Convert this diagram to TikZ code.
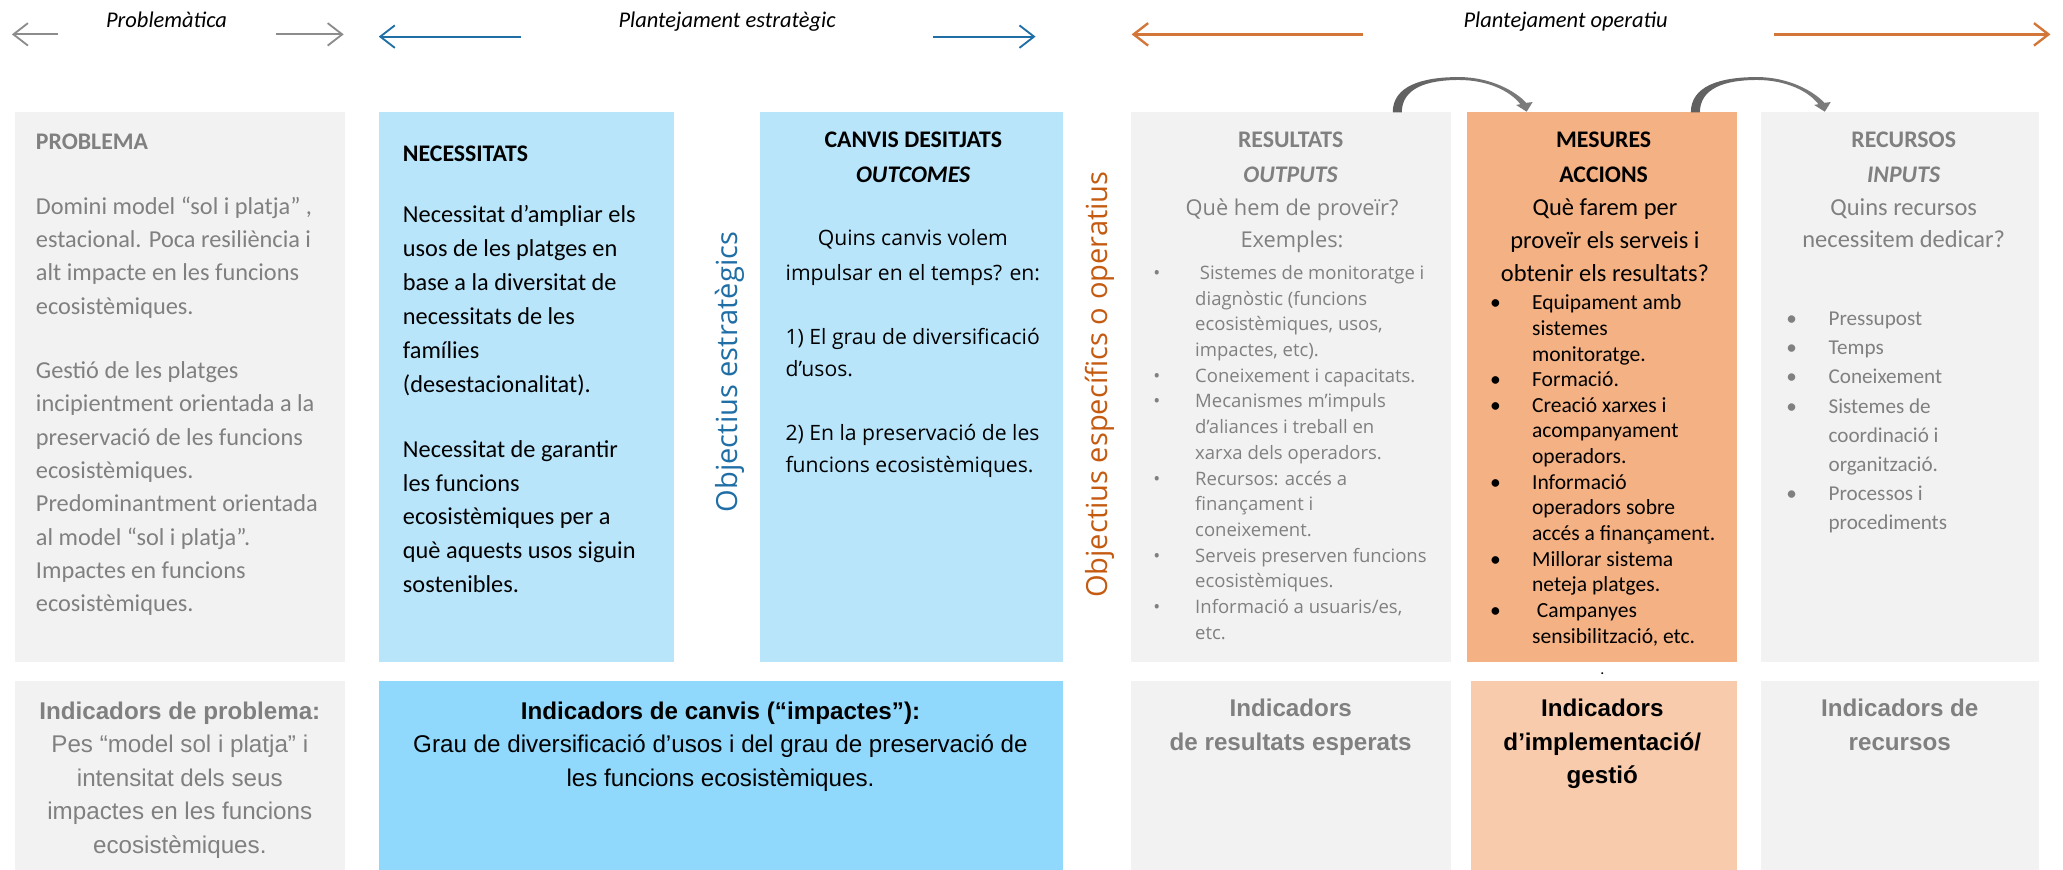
\documentclass[tikz,border=0pt]{standalone}
\usepackage{fontspec}
\setmainfont{Carlito}
\newfontfamily\osfont{Open Sans}
\newfontfamily\arialfont{Liberation Sans}
\usetikzlibrary{arrows.meta}
\definecolor{boxgray}{RGB}{242,242,242}
\definecolor{boxblue}{RGB}{185,229,251}
\definecolor{boxbluedark}{RGB}{145,217,252}
\definecolor{boxorange}{RGB}{244,177,131}
\definecolor{boxorangelight}{RGB}{248,203,173}
\definecolor{txtgray}{RGB}{128,128,128}
\definecolor{arrgray}{RGB}{140,140,140}
\definecolor{arrblue}{RGB}{31,110,165}
\definecolor{arrorange}{RGB}{211,118,58}
\definecolor{txtorange}{RGB}{197,90,17}
\definecolor{curvedark}{RGB}{95,95,95}
\definecolor{curvemid}{RGB}{165,165,165}
\definecolor{curveright}{RGB}{125,125,125}
\newcommand\rbul{\makebox[31.6pt][l]{•}}
\newcommand\rind{\makebox[31.6pt]{}}
\newcommand\mbul{\makebox[31.7pt][l]{•}}
\newcommand\mind{\makebox[31.7pt]{}}
\newcommand\cbul{\makebox[32pt][l]{•}}
\newcommand\cind{\makebox[32pt]{}}
\newcommand\curvedarrowshape{%
  (0,0) .. controls (0,-20) and (22,-26.7) .. (50,-26.7)
  .. controls (74,-26.7) and (93,-16) .. (101,-7.2)
  -- (105.8,-7.8) -- (101.3,-0.5) -- (93.3,-5.6) -- (96.5,-6.2)
  .. controls (89,-16) and (72,-24.5) .. (50,-24.5)
  .. controls (25,-24.5) and (7,-18) .. (6.8,0) -- cycle}
\begin{document}
\begin{tikzpicture}[x=1pt,y=-1pt,
  panel/.style={draw=none, inner sep=0pt, outer sep=0pt, anchor=north west},
  ttl/.style={font=\fontsize{18}{26.4}\selectfont\bfseries, align=center, anchor=base, inner sep=0pt},
  hdr/.style={font=\fontsize{17}{20}\selectfont\itshape, anchor=base, inner sep=0pt},
  bodytxt/.style={font=\fontsize{18.4}{25.2}\selectfont, align=left, anchor=base west, inner sep=0pt},
  indtxt/.style={font=\arialfont\fontsize{18.3}{25.4}\selectfont, align=center, anchor=base, inner sep=0pt},
  vert/.style={rotate=90, font=\osfont\fontsize{22}{26}\selectfont, inner sep=0pt},
  toparrow/.style={line width=1.4pt, -{Straight Barb[length=11pt,width=17pt]}},
  curveshade/.style={left color=curvedark, middle color=curvemid, right color=curveright}
]
\useasboundingbox (0,0) rectangle (1560.5,658);

% ---- panels, top row
\node[panel, fill=boxgray, minimum width=250pt, minimum height=416pt] (prob) at (11,85) {};
\node[panel, fill=boxblue, minimum width=223pt, minimum height=416pt] (nec) at (287,85) {};
\node[panel, fill=boxblue, minimum width=229pt, minimum height=416pt] (canv) at (575,85) {};
\node[panel, fill=boxgray, minimum width=242.4pt, minimum height=416pt] (res) at (855.3,85) {};
\node[panel, fill=boxorange, minimum width=204pt, minimum height=416pt] (mes) at (1110,85) {};
\node[panel, fill=boxgray, minimum width=210pt, minimum height=416pt] (rec) at (1332,85) {};
% ---- panels, bottom row
\node[panel, fill=boxgray, minimum width=250pt, minimum height=143pt] (iprob) at (11,515) {};
\node[panel, fill=boxbluedark, minimum width=517pt, minimum height=143pt] (icanv) at (287,515) {};
\node[panel, fill=boxgray, minimum width=242.4pt, minimum height=143pt] (ires) at (855.3,515) {};
\node[panel, fill=boxorangelight, minimum width=201.4pt, minimum height=143pt] (imes) at (1112.6,515) {};
\node[panel, fill=boxgray, minimum width=210pt, minimum height=143pt] (irec) at (1332,515) {};

% ---- top headers and arrows
\node[hdr] (hprob) at (126,20.7) {Problemàtica};
\node[hdr] (hest) at (550,20.7) {Plantejament estratègic};
\node[hdr] (hop) at (1184.3,20.7) {Plantejament operatiu};
\coordinate (g1a) at (44,26);   \coordinate (g1b) at (9,26);
\coordinate (g2a) at (208.5,26); \coordinate (g2b) at (260,26);
\coordinate (b1a) at (394,27.7); \coordinate (b1b) at (286.5,27.7);
\coordinate (b2a) at (705.8,27.7); \coordinate (b2b) at (783.3,27.7);
\coordinate (o1a) at (1031,26); \coordinate (o1b) at (856,26);
\coordinate (o2a) at (1342,26); \coordinate (o2b) at (1551,26);
\draw[toparrow, arrgray] (g1a) -- (g1b);
\draw[toparrow, arrgray] (g2a) -- (g2b);
\draw[toparrow, arrblue] (b1a) -- (b1b);
\draw[toparrow, arrblue] (b2a) -- (b2b);
\draw[toparrow, arrorange, line width=1.8pt] (o1a) -- (o1b);
\draw[toparrow, arrorange, line width=1.8pt] (o2a) -- (o2b);

% ---- curved arrows (tapered block arrows from box to box)
\coordinate (c1s) at ([xshift=-44.2pt]res.north east);
\coordinate (c2s) at ([xshift=-35pt]mes.north east);
\begin{scope}[shift={(c1s)}]
  \shade[curveshade] \curvedarrowshape;
\end{scope}
\begin{scope}[shift={(c2s)}]
  \shade[curveshade] \curvedarrowshape;
\end{scope}

% ---- vertical labels
\node[vert, text=arrblue] (objest) at (552,281.4) {Objectius estratègics};
\node[vert, text=txtorange] (objop) at (832,291) {Objectius específics o operatius};

% ---- PROBLEMA (base anchor = last line)
\node[bodytxt, font=\fontsize{18}{22}\selectfont\bfseries, text=txtgray] (probt) at (27,113.4) {PROBLEMA};
\node[bodytxt, text=txtgray] (probb) at (27,462.8) {Domini model “sol i platja” ,\\
estacional. Poca resiliència i\\
alt impacte en les funcions\\
ecosistèmiques.\\[23.6pt]
Gestió de les platges\\
incipientment orientada a la\\
preservació de les funcions\\
ecosistèmiques.\\
Predominantment orientada\\
al model “sol i platja”.\\
Impactes en funcions\\
ecosistèmiques.};

% ---- NECESSITATS
\node[bodytxt, font=\fontsize{18}{22}\selectfont\bfseries] (nect) at (304.6,122) {NECESSITATS};
\node[bodytxt, font=\fontsize{18.4}{25.7}\selectfont] (necb) at (304.6,448.5) {Necessitat d’ampliar els\\
usos de les platges en\\
base a la diversitat de\\
necessitats de les\\
famílies\\
(desestacionalitat).\\[23pt]
Necessitat de garantir\\
les funcions\\
ecosistèmiques per a\\
què aquests usos siguin\\
sostenibles.};

% ---- CANVIS
\node[ttl] (canvt) at (690.8,138.2) {CANVIS DESITJATS\\\textit{OUTCOMES}};
\node[font=\osfont\fontsize{16}{26}\selectfont, align=center, anchor=base, inner sep=0pt] (canvq) at (690.5,212) {Quins canvis volem\\impulsar en el temps? en:};
\node[font=\osfont\fontsize{16}{24.2}\selectfont, align=left, anchor=base west, inner sep=0pt] (canvb) at (594,357.5) {1) El grau de diversificació\\
d’usos.\\[24.2pt]
2) En la preservació de les\\
funcions ecosistèmiques.};

% ---- RESULTATS
\node[ttl, text=txtgray] (rest) at (976.3,138.2) {RESULTATS\\\textit{OUTPUTS}};
\node[font=\osfont\fontsize{16.5}{24.3}\selectfont, align=center, anchor=base, inner sep=0pt, text=txtgray] (resq) at (977.3,187.5) {Què hem de proveïr?\\Exemples:};
\node[font=\osfont\fontsize{14}{19.45}\selectfont, align=left, anchor=base west, inner sep=0pt, text=txtgray] (resb) at (872.3,483.6) {\rbul\hspace{3.5pt}Sistemes de monitoratge i\\
\rind diagnòstic (funcions\\
\rind ecosistèmiques, usos,\\
\rind impactes, etc).\\
\rbul Coneixement i capacitats.\\
\rbul Mecanismes m’impuls\\
\rind d’aliances i treball en\\
\rind xarxa dels operadors.\\
\rbul Recursos: accés a\\
\rind finançament i\\
\rind coneixement.\\
\rbul Serveis preserven funcions\\
\rind ecosistèmiques.\\
\rbul Informació a usuaris/es,\\
\rind etc.};

% ---- MESURES
\node[ttl] (mest) at (1213,138.2) {MESURES\\ACCIONS};
\node[font=\fontsize{18.5}{25}\selectfont, align=center, anchor=base, inner sep=0pt] (mesq) at (1214,213) {Què farem per\\proveïr els serveis i\\obtenir els resultats?};
\node[font=\fontsize{16.3}{19.4}\selectfont, align=left, anchor=base west, inner sep=0pt] (mesb) at (1127,486.5) {\mbul Equipament amb\\
\mind sistemes\\
\mind monitoratge.\\
\mbul Formació.\\
\mbul Creació xarxes i\\
\mind acompanyament\\
\mind operadors.\\
\mbul Informació\\
\mind operadors sobre\\
\mind accés a finançament.\\
\mbul Millorar sistema\\
\mind neteja platges.\\
\mbul\hspace{3.6pt}Campanyes\\
\mind sensibilització, etc.};
\node[font=\fontsize{12}{12}\selectfont, anchor=base, inner sep=0pt] (mesdot) at (1212,510) {.};

% ---- RECURSOS
\node[ttl, text=txtgray] (rect) at (1440,138.2) {RECURSOS\\\textit{INPUTS}};
\node[font=\fontsize{18.5}{24.3}\selectfont, align=center, anchor=base, inner sep=0pt, text=txtgray] (recq) at (1440,187.3) {Quins recursos\\necessitem dedicar?};
\node[font=\fontsize{16}{22}\selectfont, align=left, anchor=base west, inner sep=0pt, text=txtgray] (recb) at (1351,400.4) {\cbul Pressupost\\
\cbul Temps\\
\cbul Coneixement\\
\cbul Sistemes de\\
\cind coordinació i\\
\cind organització.\\
\cbul Processos i\\
\cind procediments};

% ---- bottom indicators
\node[indtxt, text=txtgray] (iprobt) at (136,645.6) {\textbf{Indicadors de problema:}\\Pes “model sol i platja” i\\intensitat dels seus\\impactes en les funcions\\ecosistèmiques.};
\node[indtxt] (icanvt) at (545,594.8) {\textbf{Indicadors de canvis (“impactes”):}\\Grau de diversificació d’usos i del grau de preservació de\\les funcions ecosistèmiques.};
\node[indtxt, font=\arialfont\fontsize{18.3}{25.4}\selectfont\bfseries, text=txtgray] (irest) at (976.3,567.4) {Indicadors\\de resultats esperats};
\node[indtxt, font=\arialfont\fontsize{18.3}{25.4}\selectfont\bfseries] (imest) at (1212,592.8) {Indicadors\\d’implementació/\\gestió};
\node[indtxt, font=\arialfont\fontsize{18.3}{25.4}\selectfont\bfseries, text=txtgray] (irect) at (1437,567.4) {Indicadors de\\recursos};
\end{tikzpicture}
\end{document}
